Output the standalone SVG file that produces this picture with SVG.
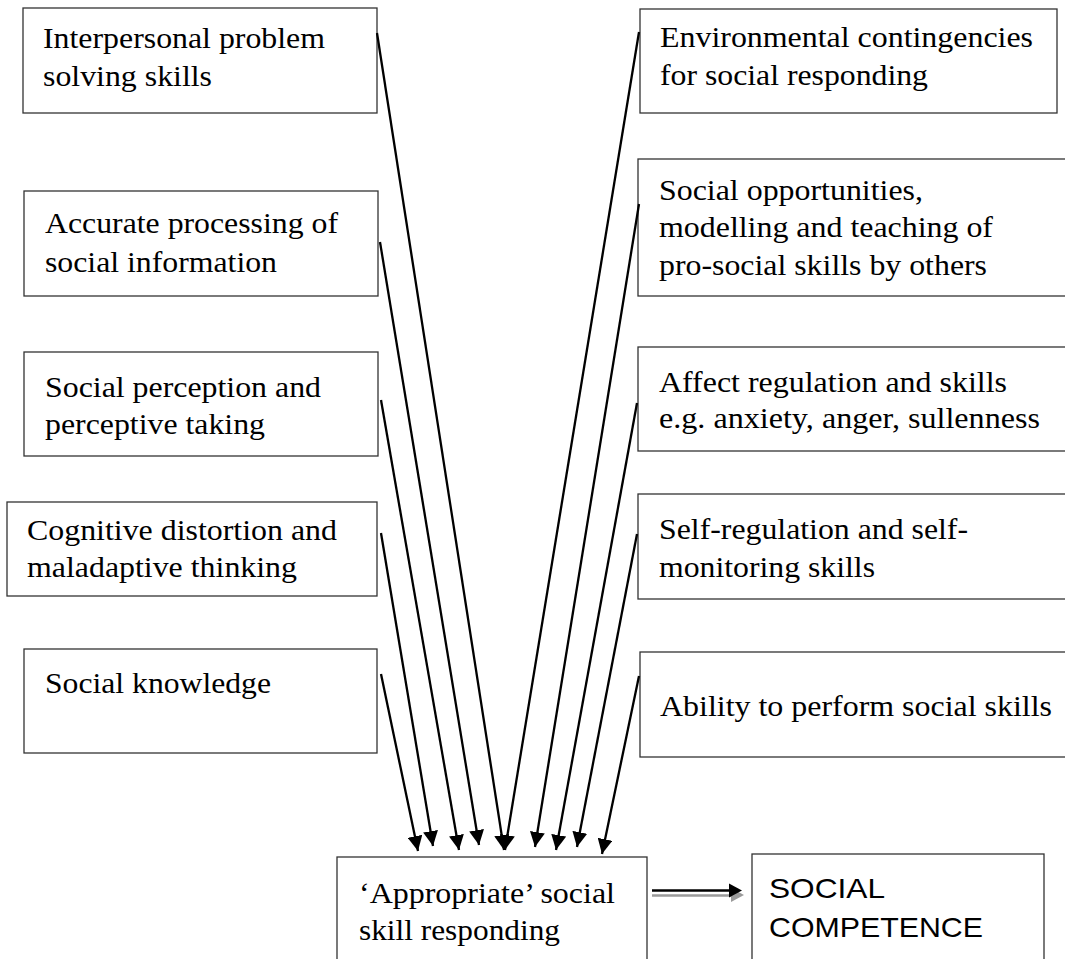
<svg xmlns="http://www.w3.org/2000/svg" width="1065" height="959" viewBox="0 0 1065 959">
<style>
.box{fill:#fff;stroke:#333;stroke-width:1.3}
.t{font-family:"Liberation Serif","Times New Roman",serif;font-size:29px;fill:#000}
.s{font-family:"Liberation Sans",Arial,sans-serif;font-size:28px;fill:#000}
.c{stroke:#000;stroke-width:2.3;fill:none;marker-end:url(#ah)}
</style>
<defs>
<marker id="ah" viewBox="0 0 15 15" refX="15" refY="7.5" markerWidth="15" markerHeight="15" markerUnits="userSpaceOnUse" orient="auto">
<path d="M0,0 L15,7.5 L0,15 z" fill="#000"/>
</marker>
</defs>
<rect width="1065" height="959" fill="#fff"/>
<g id="n-interpersonal">
<rect class="box" x="23" y="8" width="354" height="105"/>
<text class="t" x="43" y="48" textLength="282" lengthAdjust="spacingAndGlyphs">Interpersonal problem</text>
<text class="t" x="43" y="86" textLength="169" lengthAdjust="spacingAndGlyphs">solving skills</text>
</g>
<g id="n-accurate">
<rect class="box" x="24" y="191" width="354" height="105"/>
<text class="t" x="45" y="233" textLength="293" lengthAdjust="spacingAndGlyphs">Accurate processing of</text>
<text class="t" x="45" y="272" textLength="232" lengthAdjust="spacingAndGlyphs">social information</text>
</g>
<g id="n-perception">
<rect class="box" x="24" y="352" width="354" height="104"/>
<text class="t" x="45" y="397" textLength="276" lengthAdjust="spacingAndGlyphs">Social perception and</text>
<text class="t" x="45" y="434" textLength="220" lengthAdjust="spacingAndGlyphs">perceptive taking</text>
</g>
<g id="n-cognitive">
<rect class="box" x="7" y="502" width="370" height="94"/>
<text class="t" x="27" y="540" textLength="310" lengthAdjust="spacingAndGlyphs">Cognitive distortion and</text>
<text class="t" x="27" y="577" textLength="270" lengthAdjust="spacingAndGlyphs">maladaptive thinking</text>
</g>
<g id="n-knowledge">
<rect class="box" x="24" y="649" width="353" height="104"/>
<text class="t" x="45" y="693" textLength="226" lengthAdjust="spacingAndGlyphs">Social knowledge</text>
</g>
<g id="n-environmental">
<rect class="box" x="640" y="9" width="417" height="104"/>
<text class="t" x="660" y="47" textLength="373" lengthAdjust="spacingAndGlyphs">Environmental contingencies</text>
<text class="t" x="660" y="85" textLength="268" lengthAdjust="spacingAndGlyphs">for social responding</text>
</g>
<g id="n-opportunities">
<rect class="box" x="638" y="159" width="440" height="137"/>
<text class="t" x="659" y="200" textLength="264" lengthAdjust="spacingAndGlyphs">Social opportunities,</text>
<text class="t" x="659" y="237" textLength="334" lengthAdjust="spacingAndGlyphs">modelling and teaching of</text>
<text class="t" x="659" y="275" textLength="328" lengthAdjust="spacingAndGlyphs">pro-social skills by others</text>
</g>
<g id="n-affect">
<rect class="box" x="638" y="347" width="440" height="104"/>
<text class="t" x="659" y="392" textLength="348" lengthAdjust="spacingAndGlyphs">Affect regulation and skills</text>
<text class="t" x="659" y="428" textLength="381" lengthAdjust="spacingAndGlyphs">e.g. anxiety, anger, sullenness</text>
</g>
<g id="n-selfreg">
<rect class="box" x="638" y="494" width="440" height="105"/>
<text class="t" x="659" y="539" textLength="309" lengthAdjust="spacingAndGlyphs">Self-regulation and self-</text>
<text class="t" x="659" y="577" textLength="216" lengthAdjust="spacingAndGlyphs">monitoring skills</text>
</g>
<g id="n-ability">
<rect class="box" x="640" y="652" width="440" height="105"/>
<text class="t" x="660" y="716" textLength="392" lengthAdjust="spacingAndGlyphs">Ability to perform social skills</text>
</g>
<g id="n-appropriate">
<rect class="box" x="337" y="857" width="310" height="120"/>
<text class="t" x="359" y="903" textLength="256" lengthAdjust="spacingAndGlyphs">‘Appropriate’ social</text>
<text class="t" x="359" y="940" textLength="201" lengthAdjust="spacingAndGlyphs">skill responding</text>
</g>
<g id="n-competence">
<rect class="box" x="752" y="854" width="292" height="120"/>
<text class="s" x="769" y="898" textLength="116" lengthAdjust="spacingAndGlyphs">SOCIAL</text>
<text class="s" x="769" y="937" textLength="214" lengthAdjust="spacingAndGlyphs">COMPETENCE</text>
</g>
<g id="connectors">
<line class="c" x1="377" y1="33" x2="504" y2="850"/>
<line class="c" x1="380" y1="242" x2="479" y2="845"/>
<line class="c" x1="381" y1="400" x2="459" y2="850"/>
<line class="c" x1="381" y1="533" x2="433" y2="846"/>
<line class="c" x1="381" y1="674" x2="418" y2="851"/>
<line class="c" x1="639" y1="32" x2="505" y2="850"/>
<line class="c" x1="639" y1="204" x2="535" y2="847"/>
<line class="c" x1="637" y1="403" x2="556" y2="850"/>
<line class="c" x1="637" y1="534" x2="577" y2="847"/>
<line class="c" x1="639" y1="676" x2="602" y2="854"/>
<g id="e-competence">
<line x1="652" y1="895.5" x2="733" y2="895.5" stroke="#9a9a9a" stroke-width="2.5"/>
<polygon points="731,888 744,895 731,902" fill="#9a9a9a"/>
<line x1="652" y1="890.5" x2="731" y2="890.5" stroke="#000" stroke-width="2.5"/>
<polygon points="729,883.5 742,890.5 729,897.5" fill="#000"/>
</g>
</g>
</svg>
